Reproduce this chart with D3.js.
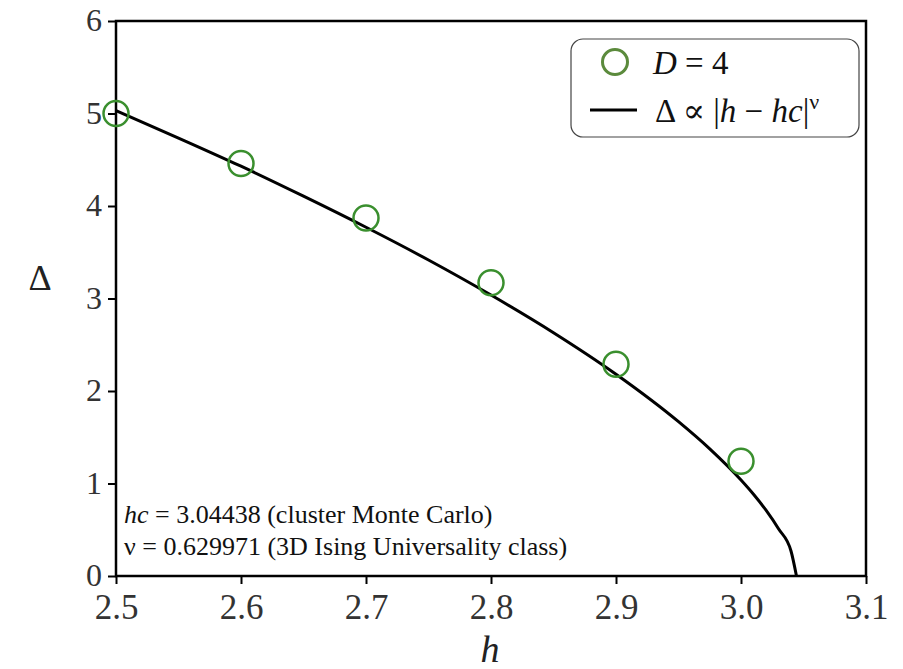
<!DOCTYPE html>
<html><head><meta charset="utf-8">
<script src="https://cdn.jsdelivr.net/npm/d3@7"></script>
<style>body{margin:0;background:#fff}svg{display:block}</style>
</head><body>
<script>
const hPoints = [2.5, 2.6, 2.7, 2.8, 2.9, 3.0];
const deltaPoints = [5.0, 4.46, 3.87, 3.17, 2.29, 1.24];
const fitH = [2.5, 2.55, 2.6, 2.65, 2.7, 2.75, 2.8, 2.85, 2.9, 2.95, 2.975, 3.0, 3.01, 3.02, 3.03, 3.04, 3.04438];
const fitDelta = [5.03, 4.735, 4.43, 4.106, 3.77, 3.416, 3.037, 2.63, 2.181, 1.668, 1.374, 1.037, 0.883, 0.711, 0.51, 0.27, 0];
const xTicks = [2.5, 2.6, 2.7, 2.8, 2.9, 3.0, 3.1];
const xTickLabels = ["2.5", "2.6", "2.7", "2.8", "2.9", "3.0", "3.1"];
const yTicks = [0, 1, 2, 3, 4, 5, 6];
const annotations = ["= 3.04438 (cluster Monte Carlo)", "ν = 0.629971 (3D Ising Universality class)"];

const W = 903, H = 669;
const L = 116, R = 866, T = 21, B = 576;
const svg = d3.select("body").append("svg").attr("width", W).attr("height", H);
const x = d3.scaleLinear().domain([2.5, 3.1]).range([L, R]);
const y = d3.scaleLinear().domain([0, 6]).range([B, T]);
const serif = "Liberation Serif, Tinos, Times New Roman, DejaVu Serif, serif";

// axes
const xa = svg.append("g").attr("transform", `translate(0,${B})`)
  .call(d3.axisBottom(x).tickValues(xTicks).tickFormat((d, i) => xTickLabels[i]).tickSize(8).tickPadding(10));
const ya = svg.append("g").attr("transform", `translate(${L},0)`)
  .call(d3.axisLeft(y).tickValues(yTicks).tickFormat(d3.format("d")).tickSize(8).tickPadding(6));
[xa, ya].forEach(g => {
  g.select(".domain").remove();
  g.selectAll("line").attr("stroke", "#000").attr("stroke-width", 2);
  g.selectAll("text").attr("fill", "#333").style("font-family", serif);
});
xa.selectAll("text").attr("font-size", 35).attr("dy", "0.72em");
ya.selectAll("text").attr("font-size", 32).attr("dy", "0.3em");

// frame
svg.append("rect").attr("x", L).attr("y", T).attr("width", R - L).attr("height", B - T)
  .attr("fill", "none").attr("stroke", "#000").attr("stroke-width", 2.5);

// fit line
svg.append("path").datum(fitH.map((h, i) => [h, fitDelta[i]]))
  .attr("d", d3.line().x(d => x(d[0])).y(d => y(d[1])).curve(d3.curveMonotoneX))
  .attr("fill", "none").attr("stroke", "#000").attr("stroke-width", 3);

// points
svg.append("g").selectAll("circle").data(hPoints).join("circle")
  .attr("cx", d => x(d)).attr("cy", (d, i) => y(deltaPoints[i])).attr("r", 12.5)
  .attr("fill", "none").attr("stroke", "#3a8f2e").attr("stroke-width", 2.5);

// axis labels
svg.append("text").attr("x", 490).attr("y", 662).attr("text-anchor", "middle")
  .style("font-family", serif).attr("font-style", "italic").attr("font-size", 38).attr("fill", "#222").text("h");
svg.append("text").attr("x", 40).attr("y", 290).attr("text-anchor", "middle")
  .style("font-family", serif).attr("font-size", 36).attr("fill", "#222").text("Δ");

// annotations
const ann = svg.append("g").style("font-family", serif).attr("font-size", 26).attr("fill", "#111");
const t1 = ann.append("text").attr("x", 124).attr("y", 523);
t1.append("tspan").attr("font-style", "italic").text("hc");
t1.append("tspan").text(" " + annotations[0]);
ann.append("text").attr("x", 124).attr("y", 555).text(annotations[1]);

// legend
const lg = svg.append("g");
lg.append("rect").attr("x", 571).attr("y", 39).attr("width", 288).attr("height", 98).attr("rx", 12)
  .attr("fill", "#fff").attr("stroke", "#444").attr("stroke-width", 1.2);
lg.append("circle").attr("cx", 615).attr("cy", 62).attr("r", 12.5)
  .attr("fill", "none").attr("stroke", "#5b8a3c").attr("stroke-width", 3);
const lt1 = lg.append("text").attr("x", 653).attr("y", 74).style("font-family", serif).attr("font-size", 33).attr("fill", "#111");
lt1.append("tspan").attr("font-style", "italic").text("D");
lt1.append("tspan").text(" = 4");
lg.append("line").attr("x1", 590).attr("x2", 637).attr("y1", 110).attr("y2", 110).attr("stroke", "#000").attr("stroke-width", 3);
const lt2 = lg.append("text").attr("x", 655).attr("y", 122).style("font-family", serif).attr("font-size", 33).attr("fill", "#111");
lt2.append("tspan").text("Δ ∝ |");
lt2.append("tspan").attr("font-style", "italic").text("h");
lt2.append("tspan").text(" − ");
lt2.append("tspan").attr("font-style", "italic").text("hc");
lt2.append("tspan").text("|");
lt2.append("tspan").attr("font-size", 22).attr("dy", -13).text("ν");
</script>
</body></html>
